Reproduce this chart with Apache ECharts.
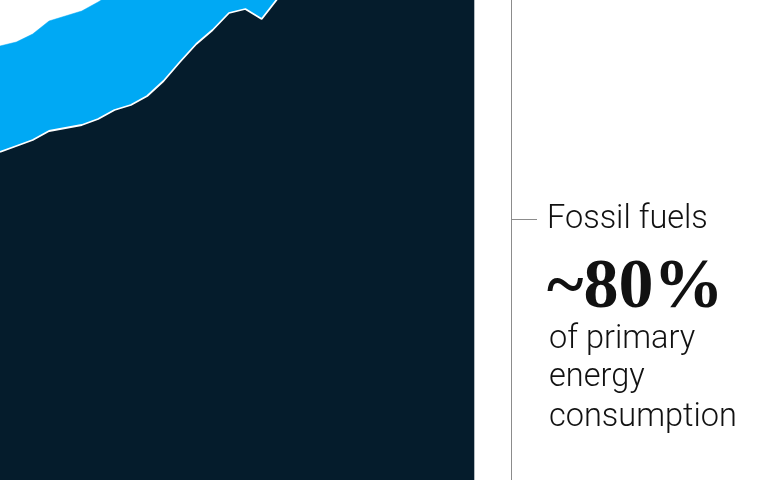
<!DOCTYPE html>
<html>
<head>
<meta charset="utf-8">
<script src="https://cdn.jsdelivr.net/npm/echarts@6/dist/echarts.min.js"></script>
<style>
html,body{margin:0;padding:0;background:#fff;}
#chart{width:767px;height:480px;}
</style>
</head>
<body>
<div id="chart"></div>
<script>
// Years shown (the picture is a crop of a longer series)
const years = ['1993','1994','1995','1996','1997','1998','1999','2000','2001','2002','2003','2004','2005','2006','2007','2008','2009','2010','2011','2012','2013','2014','2015','2016','2017','2018','2019','2020','2021','2022'];
// Fossil fuel consumption (arbitrary units)
const fossil = [328,334,340,349,352,355,361,370,375,384,399,418,436,450,467,471,461,482,495,502,510,515,518,522,530,540,543,525,550,556];
// Other (non-fossil) consumption, stacked on top of fossil
const other = [106,104,106,110,112,114,117,118,120,122,124,126,128,130,132,134,136,138,140,142,144,146,148,150,152,154,156,158,160,162];

const annotationTitle = 'Fossil fuels';
const annotationValue = '~80%';
const annotationLines = ['of primary', 'energy', 'consumption'];

const chart = echarts.init(document.getElementById('chart'), null, {renderer: 'canvas'});
const sans = '300 32.5px Roboto, "Liberation Sans", Arial, sans-serif';

chart.setOption({
  animation: false,
  backgroundColor: '#ffffff',
  grid: {left: -4.1, right: 292.7, top: 0, bottom: 0, containLabel: false},
  xAxis: {type: 'category', data: years, boundaryGap: false, show: false},
  yAxis: {type: 'value', min: 0, max: 480, show: false},
  series: [
    {
      name: 'Fossil fuels', type: 'line', stack: 'total', data: fossil,
      symbol: 'none', clip: true,
      lineStyle: {color: '#ffffff', width: 1.8},
      areaStyle: {color: '#051C2C', opacity: 1}
    },
    {
      name: 'Other', type: 'line', stack: 'total', data: other,
      symbol: 'none', clip: true,
      lineStyle: {color: '#00A9F4', width: 0.5},
      areaStyle: {color: '#00A9F4', opacity: 1}
    }
  ],
  graphic: [
    {type: 'line', shape: {x1: 511.5, y1: 0, x2: 511.5, y2: 480}, style: {stroke: '#8c8c8c', lineWidth: 1}},
    {type: 'line', shape: {x1: 512, y1: 219.5, x2: 537, y2: 219.5}, style: {stroke: '#8c8c8c', lineWidth: 1}},
    {type: 'text', x: 547, y: 203, style: {text: annotationTitle, font: sans, fill: '#111111', textVerticalAlign: 'top'}},
    {type: 'text', x: 547, y: 254, style: {text: annotationValue, font: 'bold 70px "Liberation Serif", "Times New Roman", serif', fill: '#111111', textVerticalAlign: 'top'}},
    {type: 'text', x: 549, y: 323, style: {text: annotationLines[0], font: sans, fill: '#111111', textVerticalAlign: 'top'}},
    {type: 'text', x: 549, y: 361, style: {text: annotationLines[1], font: sans, fill: '#111111', textVerticalAlign: 'top'}},
    {type: 'text', x: 549, y: 401, style: {text: annotationLines[2], font: sans, fill: '#111111', textVerticalAlign: 'top'}}
  ]
});
</script>
</body>
</html>
